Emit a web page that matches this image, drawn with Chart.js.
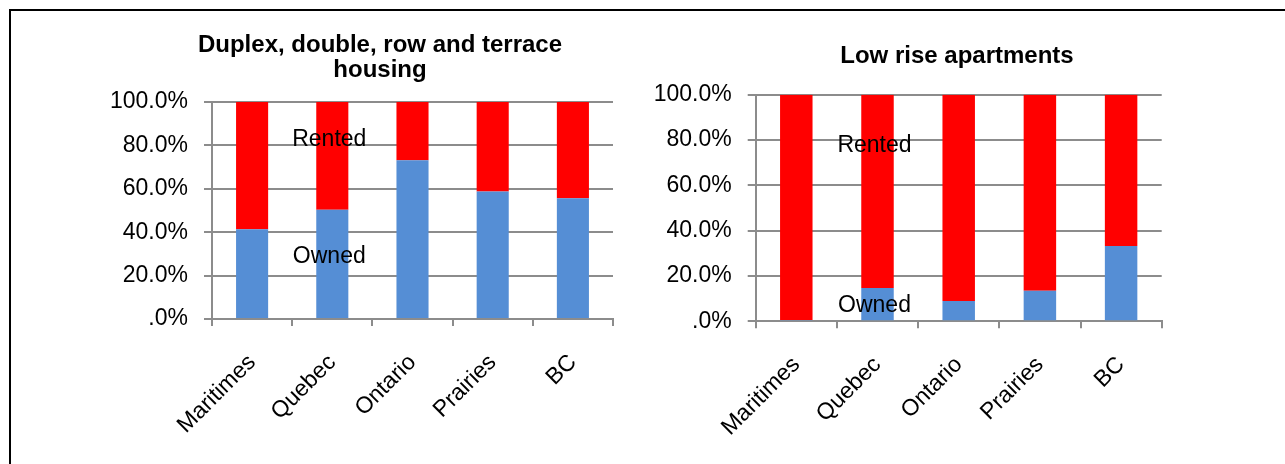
<!DOCTYPE html>
<html>
<head>
<meta charset="utf-8">
<script src="https://cdn.jsdelivr.net/npm/chart.js"></script>
<style>
body { margin: 0; background: #fff; width: 1285px; height: 464px; overflow: hidden; position: relative; }
#frame { position: absolute; left: 9px; top: 9px; width: 1300px; height: 500px; border: 2px solid #000; }
.box { position: absolute; top: 0; height: 464px; }
</style>
</head>
<body>
<div id="frame"></div>
<div class="box" style="left:0;width:660px"><canvas id="chartDuplex"></canvas></div>
<div class="box" style="left:640px;width:645px"><canvas id="chartLowRise"></canvas></div>
<script>
// data (percent)
const regions = ['Maritimes', 'Quebec', 'Ontario', 'Prairies', 'BC'];
const yTickLabels = ['.0%', '20.0%', '40.0%', '60.0%', '80.0%', '100.0%'];

const duplexOwned  = [41.4, 50.3, 73.2, 58.8, 55.6];
const duplexRented = [58.6, 49.7, 26.8, 41.2, 44.4];

const lowRiseOwned  = [0.6, 14.7, 9.0, 13.5, 33.2];
const lowRiseRented = [99.4, 85.3, 91.0, 86.5, 66.8];

// where the "Rented" / "Owned" text sits (category index, value)
const duplexLabels  = [{text: 'Rented', cat: 1, value: 82.6}, {text: 'Owned', cat: 1, value: 28.5}];
const lowRiseLabels = [{text: 'Rented', cat: 1, value: 77.3}, {text: 'Owned', cat: 1, value: 7.1}];

const GRID = '#8c8c8c';
Chart.defaults.font.family = "'Liberation Sans', Arial, sans-serif";
Chart.defaults.color = '#000';

const seriesLabels = {
    id: 'seriesLabels',
    afterDatasetsDraw(chart, args, opts) {
        const ctx = chart.ctx;
        const x = chart.scales.x, y = chart.scales.y;
        ctx.save();
        ctx.font = "23px 'Liberation Sans', Arial, sans-serif";
        ctx.fillStyle = '#000';
        ctx.textAlign = 'center';
        ctx.textBaseline = 'middle';
        opts.items.forEach(it => {
            ctx.fillText(it.text, x.getPixelForValue(it.cat) - 3, y.getPixelForValue(it.value));
        });
        ctx.restore();
    }
};

function makeChart(id, title, owned, rented, labels, lay) {
    return new Chart(document.getElementById(id), {
        type: 'bar',
        data: {
            labels: regions,
            datasets: [
                { label: 'Owned', data: owned, backgroundColor: '#558ed5', borderWidth: 0,
                  barPercentage: 0.4, categoryPercentage: 1 },
                { label: 'Rented', data: rented, backgroundColor: '#ff0000', borderWidth: 0,
                  barPercentage: 0.4, categoryPercentage: 1 }
            ]
        },
        options: {
            responsive: true,
            maintainAspectRatio: false,
            animation: false,
            layout: { padding: lay.padding },
            plugins: {
                legend: { display: false },
                tooltip: { enabled: false },
                title: {
                    display: true,
                    text: title,
                    color: '#000',
                    font: { size: 24, weight: 'bold', lineHeight: 1.05 },
                    padding: lay.titlePadding
                },
                seriesLabels: { items: labels }
            },
            scales: {
                x: {
                    stacked: true,
                    grid: { display: true, drawOnChartArea: false, drawTicks: true, tickLength: 7,
                            color: GRID, lineWidth: 2, offset: true },
                    border: { display: true, color: GRID, width: 2 },
                    ticks: { maxRotation: 45, minRotation: 45, padding: 23, font: { size: 23 }, color: '#000' },
                    afterFit: s => { s.height = lay.xHeight; }
                },
                y: {
                    stacked: true,
                    min: 0,
                    max: 100,
                    grid: { color: GRID, lineWidth: 2, tickLength: 8 },
                    border: { display: true, color: GRID, width: 2 },
                    ticks: { stepSize: 20, padding: 16, font: { size: 23 }, color: '#000',
                             callback: v => yTickLabels[Math.round(v / 20)] },
                    afterFit: s => { s.width = lay.yWidth; }
                },
                // empty right-hand axis: only there so the title centre sits
                // where it does in the picture
                y2: {
                    type: 'linear',
                    position: 'right',
                    display: true,
                    grid: { display: false },
                    border: { display: false },
                    ticks: { display: false },
                    afterFit: s => { s.width = lay.y2Width; }
                }
            }
        },
        plugins: [seriesLabels]
    });
}

makeChart('chartDuplex', ['Duplex, double, row and terrace', 'housing'], duplexOwned, duplexRented, duplexLabels, {
    padding: { left: 108, right: 8, top: 0, bottom: 0 },
    titlePadding: { top: 32.4, bottom: 19.2 },
    yWidth: 104,
    y2Width: 39,
    xHeight: 145
});

makeChart('chartLowRise', 'Low rise apartments', lowRiseOwned, lowRiseRented, lowRiseLabels, {
    padding: { left: 11.7, right: 22.7, top: 0, bottom: 0 },
    titlePadding: { top: 43.4, bottom: 26.1 },
    yWidth: 104,
    y2Width: 100.6,
    xHeight: 142.7
});
</script>
</body>
</html>
